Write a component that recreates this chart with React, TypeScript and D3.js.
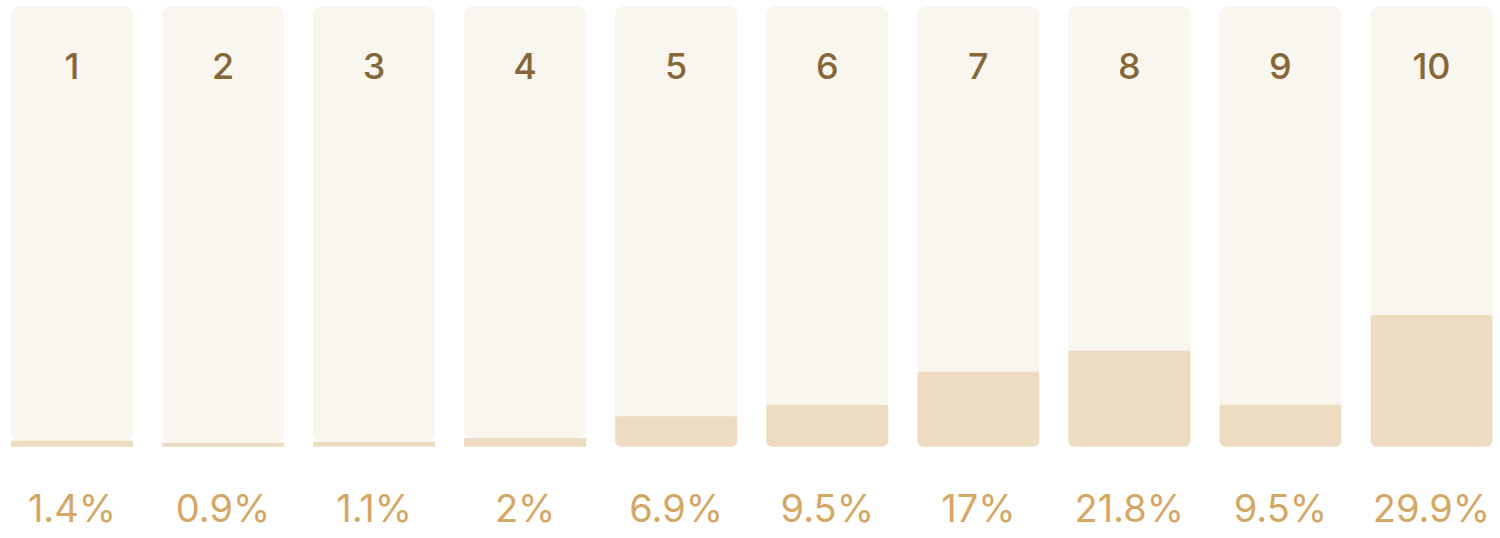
import React from "react";
import * as d3 from "d3";

const categories = ["1", "2", "3", "4", "5", "6", "7", "8", "9", "10"];
const values = [1.4, 0.9, 1.1, 2, 6.9, 9.5, 17, 21.8, 9.5, 29.9];
const labels = ["1.4%", "0.9%", "1.1%", "2%", "6.9%", "9.5%", "17%", "21.8%", "9.5%", "29.9%"];

const W = 1500;
const H = 538;
const top = 6;
const bottom = 446.7;

function barPath(x0: number, y0: number, w: number, h: number, rt: number, rb: number) {
  const p = d3.path();
  p.moveTo(x0 + rt, y0);
  p.lineTo(x0 + w - rt, y0);
  p.arcTo(x0 + w, y0, x0 + w, y0 + rt, rt);
  p.lineTo(x0 + w, y0 + h - rb);
  p.arcTo(x0 + w, y0 + h, x0 + w - rb, y0 + h, rb);
  p.lineTo(x0 + rb, y0 + h);
  p.arcTo(x0, y0 + h, x0, y0 + h - rb, rb);
  p.lineTo(x0, y0 + rt);
  p.arcTo(x0, y0, x0 + rt, y0, rt);
  p.closePath();
  return p.toString();
}

export default function App() {
  const x = d3.scaleBand<string>().domain(categories).range([11, 1492.5]).paddingInner(0.192).paddingOuter(0);
  const y = d3.scaleLinear().domain([0, 100]).range([bottom, top]);
  const bw = x.bandwidth();
  return (
    <svg width={W} height={H} style={{ position: "absolute", left: 0, top: 0, display: "block" }}>
      {categories.map((c, i) => {
        const x0 = x(c) as number;
        const yv = y(values[i]);
        const h = bottom - yv;
        const rt = h > 20 ? 2 : 0;
        const rb = h > 20 ? 6 : 0;
        return (
          <g key={c}>
            <rect x={x0} y={top} width={bw} height={Math.max(0, yv - top + (h > 20 ? 8 : 0))} rx={9} ry={9} fill="#f9f5ef" />
            <path d={barPath(x0, yv, bw, h, rt, rb)} fill="#eddcc2" />
            <text
              x={x0 + bw / 2}
              y={78.5}
              textAnchor="middle"
              fontFamily="Inter, 'Open Sans', sans-serif"
              fontSize={36}
              fontWeight={500}
              fill="#876638"
            >
              {c}
            </text>
            <text
              x={x0 + bw / 2}
              y={522}
              textAnchor="middle"
              fontFamily="Inter, 'Open Sans', sans-serif"
              fontSize={38}
              fill="#d4a764"
            >
              {labels[i]}
            </text>
          </g>
        );
      })}
    </svg>
  );
}
